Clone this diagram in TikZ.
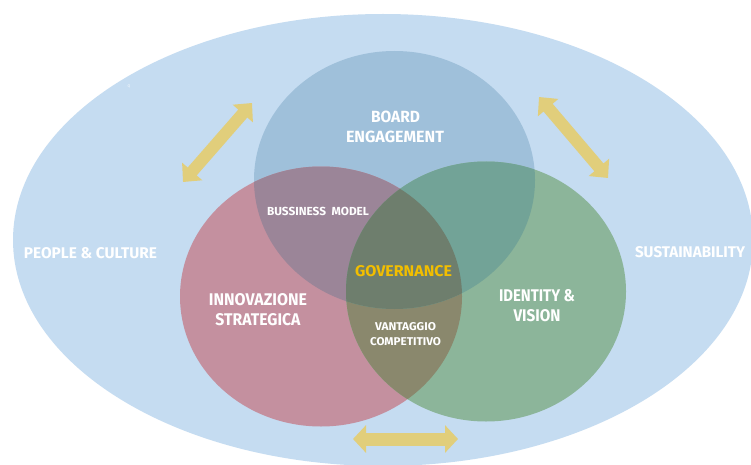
\documentclass[tikz,border=0pt]{standalone}
\usepackage{fontspec}
\usepackage{graphicx}
\setmainfont{Fira Sans}
\usetikzlibrary{arrows.meta}
\definecolor{outerblue}{HTML}{C5DCF1}
\definecolor{bluec}{HTML}{9FC0DA}
\definecolor{redc}{HTML}{C4909F}
\definecolor{greenc}{HTML}{8CB59A}
\definecolor{bluered}{HTML}{9B8598}
\definecolor{bluegreen}{HTML}{72A397}
\definecolor{redgreen}{HTML}{8A886D}
\definecolor{centerc}{HTML}{6E7E6D}
\definecolor{arrowc}{HTML}{E1CE7B}
\definecolor{goldtext}{HTML}{F2BE00}
\newcommand{\mylbl}[3]{\resizebox{#1pt}{#2pt}{\bfseries #3}}
\tikzset{
  lbl/.style={inner sep=0pt, text=white},
  twoway/.style={arrowc, line width=12pt,
    {Triangle[length=14pt,width=26pt]}-{Triangle[length=14pt,width=26pt]}},
}
\begin{document}
\begin{tikzpicture}[x=1pt,y=-1pt]
\useasboundingbox (0,0) rectangle (751,465);
\fill[white] (0,0) rectangle (751,465);
% outer ellipse
\fill[outerblue] (383,240) ellipse [x radius=370pt, y radius=226pt];
% three circles
\def\blueshape{(394.5,180) ellipse [x radius=140.5pt, y radius=129pt]}
\def\redshape{(321,296.5) ellipse [x radius=141pt, y radius=130pt]}
\def\greenshape{(486,291.5) ellipse [x radius=140pt, y radius=130pt]}
\fill[bluec] \blueshape;
\fill[redc] \redshape;
\fill[greenc] \greenshape;
\begin{scope}
  \clip \redshape;
  \fill[bluered] \blueshape;
  \fill[redgreen] \greenshape;
\end{scope}
\begin{scope}
  \clip \greenshape;
  \fill[bluegreen] \blueshape;
\end{scope}
\begin{scope}
  \clip \redshape;
  \clip \greenshape;
  \fill[centerc] \blueshape;
\end{scope}
% arrows
\coordinate (tlA) at (252,103);
\coordinate (tlB) at (183,182);
\coordinate (trA) at (539,97);
\coordinate (trB) at (608,178);
\coordinate (bA) at (353,439);
\coordinate (bB) at (458,439);
\draw[twoway] (tlB) -- (tlA);
\draw[twoway] (trA) -- (trB);
\draw[twoway, line width=13pt, {Triangle[length=13pt,width=27pt]}-{Triangle[length=13pt,width=27pt]}] (bA) -- (bB);
% labels
\node[lbl] (board1) at (395.5,117) {\mylbl{49}{11.5}{BOARD}};
\node[lbl] (board2) at (395,137) {\mylbl{98}{11.5}{ENGAGEMENT}};
\node[lbl] (inno1) at (258,299.5) {\mylbl{98}{12}{INNOVAZIONE}};
\node[lbl] (inno2) at (258,319.5) {\mylbl{85}{12}{STRATEGICA}};
\node[lbl] (iden1) at (537,295.5) {\mylbl{76}{12}{IDENTITY \&}};
\node[lbl] (iden2) at (537,315.5) {\mylbl{47}{12}{VISION}};
\node[lbl, text=goldtext] (gov) at (403.5,271.5) {\mylbl{97}{11}{GOVERNANCE}};
\node[lbl] (bm) at (318,211.5) {\mylbl{102}{8.3}{BUSSINESS\ \ MODEL}};
\node[lbl] (vc1) at (405.5,327) {\mylbl{61}{8}{VANTAGGIO}};
\node[lbl] (vc2) at (405.5,342) {\mylbl{71}{8}{COMPETITIVO}};
\node[lbl] (people) at (90.5,253.5) {\mylbl{133}{11}{PEOPLE \& CULTURE}};
\node[lbl] (sust) at (690,252) {\mylbl{110}{11}{SUSTAINABILITY}};
\node[lbl, text=white!85!outerblue, font=\fontsize{4}{4}\selectfont] (q) at (129,86) {Q};
\end{tikzpicture}
\end{document}
